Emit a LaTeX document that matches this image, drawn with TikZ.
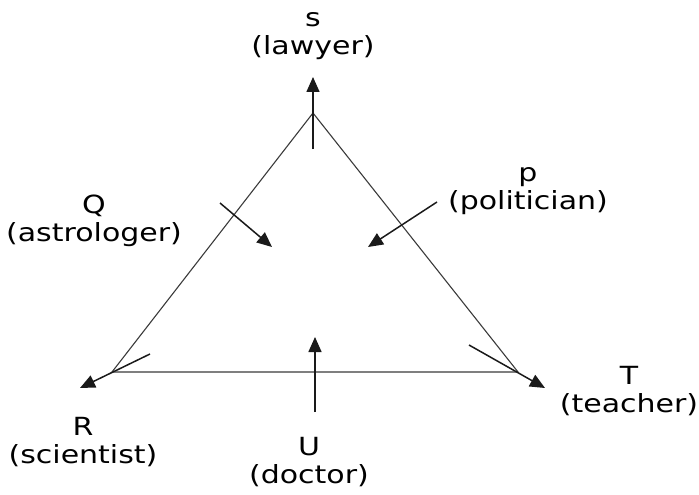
\documentclass[tikz,border=0pt]{standalone}
\usepackage{fontspec}
\setmainfont[FakeStretch=1.2]{DejaVu Sans}
\usetikzlibrary{arrows.meta}
\definecolor{Ink}{HTML}{1A1A1A}
\definecolor{EdgeGray}{HTML}{3A3A3A}

\begin{document}
\begin{tikzpicture}[x=1pt,y=-1pt,
    every node/.style={align=center,anchor=base,inner sep=0pt,font=\fontsize{25}{28}\selectfont},
    side/.style={EdgeGray,line width=1.1pt},
    pointer/.style={Ink,line width=1.5pt,-{Triangle[length=15pt,width=13pt]}}]
    \useasboundingbox (0,0) rectangle (699,495);
    % triangle
    \coordinate (apex) at (313,113);
    \coordinate (left) at (112,372);
    \coordinate (right) at (518,372);
    \draw[side] (apex) -- (left) -- (right) -- cycle;
    % arrow ends
    \coordinate (sTail) at (313,149);
    \coordinate (sTip) at (313,77);
    \coordinate (rTail) at (150,354);
    \coordinate (rTip) at (80,388);
    \coordinate (tTail) at (469,345);
    \coordinate (tTip) at (545,388);
    \coordinate (uTail) at (315,412);
    \coordinate (uTip) at (315,337);
    \coordinate (qTail) at (220,203);
    \coordinate (qTip) at (272,247);
    \coordinate (pTail) at (437,202);
    \coordinate (pTip) at (368,247);
    \draw[pointer] (sTail) -- (sTip);
    \draw[pointer] (rTail) -- (rTip);
    \draw[pointer] (tTail) -- (tTip);
    \draw[pointer] (uTail) -- (uTip);
    \draw[pointer] (qTail) -- (qTip);
    \draw[pointer] (pTail) -- (pTip);
    % labels (base = last line)
    \node (lawyer) at (313,55) {s\\(lawyer)};
    \node (astrologer) at (94,241) {Q\\(astrologer)};
    \node (politician) at (528,209) {p\\(politician)};
    \node (scientist) at (83,463) {R\\(scientist)};
    \node (doctor) at (309,483) {U\\(doctor)};
    \node (teacher) at (629,412) {T\\(teacher)};
\end{tikzpicture}
\end{document}
